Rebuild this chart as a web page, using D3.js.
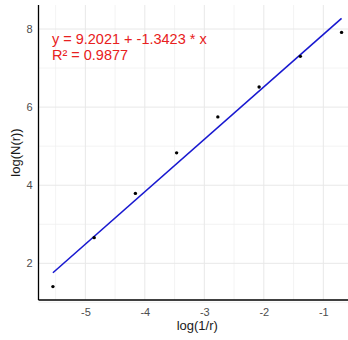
<!DOCTYPE html>
<html>
<head>
<meta charset="utf-8">
<script src="https://cdn.jsdelivr.net/npm/d3@7"></script>
<style>
  body { margin: 0; background: #fff; }
  svg { display: block; font-family: "Liberation Sans", Arial, sans-serif; }
</style>
</head>
<body>
<div id="chart"></div>
<script>
// data
var logInvR = [-5.545, -4.852, -4.159, -3.466, -2.773, -2.079, -1.386, -0.693];
var logN = [1.404, 2.657, 3.79, 4.829, 5.75, 6.517, 7.30, 7.913];
var xTicks = [-5, -4, -3, -2, -1];
var yTicks = [2, 4, 6, 8];
// fit was done on log(r) = -log(1/r)
var fitIntercept = 9.2021;
var fitSlope = -1.3423;
var fitR2 = 0.9877;

var svgWidth = 348;
var svgHeight = 340;
var margin = { top: 5, right: -8, bottom: 40, left: 38.5 };
var width = svgWidth - margin.left - margin.right;
var height = svgHeight - margin.top - margin.bottom;

var svg = d3.select("#chart")
  .append("svg")
  .attr("width", svgWidth)
  .attr("height", svgHeight);

var chart = svg.append("g")
  .attr("transform", "translate(" + margin.left + "," + margin.top + ")");

function fit(x) {
  return fitIntercept + fitSlope * (-x);
}

var xExt = d3.extent(logInvR);
var lineY = [fit(xExt[0]), fit(xExt[1])];
var yExt = d3.extent(logN.concat(lineY));

// ggplot style 5% expansion
function expand(ext) {
  var pad = (ext[1] - ext[0]) * 0.05;
  return [ext[0] - pad, ext[1] + pad];
}

var x = d3.scaleLinear().domain(expand(xExt)).range([0, width]);
var y = d3.scaleLinear().domain(expand(yExt)).range([height, 0]);

// minor grid halfway between majors
var xMinor = xTicks.map(function(t) { return t - 0.5; }).concat([xTicks[xTicks.length - 1] + 0.5]);
var yMinor = yTicks.map(function(t) { return t + 1; }).concat([yTicks[0] - 1]);

chart.selectAll(".minor-x").data(xMinor).enter().append("line")
  .attr("x1", function(d) { return x(d); }).attr("x2", function(d) { return x(d); })
  .attr("y1", 0).attr("y2", height)
  .attr("stroke", "#f0f0f0").attr("stroke-width", 0.8);
chart.selectAll(".minor-y").data(yMinor).enter().append("line")
  .attr("y1", function(d) { return y(d); }).attr("y2", function(d) { return y(d); })
  .attr("x1", 0).attr("x2", width)
  .attr("stroke", "#f0f0f0").attr("stroke-width", 0.8);

chart.selectAll(".major-x").data(xTicks).enter().append("line")
  .attr("x1", function(d) { return x(d); }).attr("x2", function(d) { return x(d); })
  .attr("y1", 0).attr("y2", height)
  .attr("stroke", "#e8e8e8").attr("stroke-width", 1);
chart.selectAll(".major-y").data(yTicks).enter().append("line")
  .attr("y1", function(d) { return y(d); }).attr("y2", function(d) { return y(d); })
  .attr("x1", 0).attr("x2", width)
  .attr("stroke", "#e8e8e8").attr("stroke-width", 1);

// axes, no tick marks, plain hyphen for minus
var fmt = function(d) { return String(d); };
var bottomAxis = d3.axisBottom(x).tickValues(xTicks).tickFormat(fmt).tickSize(0).tickPadding(8);
var leftAxis = d3.axisLeft(y).tickValues(yTicks).tickFormat(fmt).tickSize(0).tickPadding(6);

var gx = chart.append("g")
  .attr("transform", "translate(0," + height + ")")
  .call(bottomAxis);
var gy = chart.append("g").call(leftAxis);

[gx, gy].forEach(function(g) {
  g.select(".domain").remove();
  g.selectAll("text")
    .attr("fill", "#4d4d4d")
    .style("font-size", "11px")
    .style("font-family", "'Liberation Sans', Arial, sans-serif");
});

chart.append("line")
  .attr("x1", 0).attr("x2", 0).attr("y1", 0).attr("y2", height)
  .attr("stroke", "#000").attr("stroke-width", 1.3);
chart.append("line")
  .attr("x1", 0).attr("x2", width).attr("y1", height).attr("y2", height)
  .attr("stroke", "#000").attr("stroke-width", 1.3);

// fitted line
chart.append("line")
  .attr("x1", x(xExt[0])).attr("y1", y(lineY[0]))
  .attr("x2", x(xExt[1])).attr("y2", y(lineY[1]))
  .attr("stroke", "#1818d0")
  .attr("stroke-width", 1.6);

// points
chart.selectAll("circle")
  .data(logInvR)
  .enter()
  .append("circle")
  .attr("cx", function(d) { return x(d); })
  .attr("cy", function(d, i) { return y(logN[i]); })
  .attr("r", 1.7)
  .attr("fill", "#000");

// equation text
var eqX = x(-5.545) - 1;
chart.append("text")
  .attr("x", eqX).attr("y", y(8) + 15)
  .attr("fill", "#e82020")
  .style("font-size", "14.5px")
  .text("y = " + fitIntercept.toFixed(4) + " + " + fitSlope.toFixed(4) + " * x");
chart.append("text")
  .attr("x", eqX).attr("y", y(8) + 31)
  .attr("fill", "#e82020")
  .style("font-size", "14.5px")
  .text("R\u00b2 = " + fitR2.toFixed(4));

// axis titles
chart.append("text")
  .attr("x", width / 2)
  .attr("y", height + 30)
  .attr("text-anchor", "middle")
  .attr("fill", "#1a1a1a")
  .style("font-size", "13px")
  .text("log(1/r)");

chart.append("text")
  .attr("transform", "rotate(-90)")
  .attr("x", -height / 2)
  .attr("y", -margin.left + 20)
  .attr("text-anchor", "middle")
  .attr("fill", "#1a1a1a")
  .style("font-size", "13px")
  .text("log(N(r))");
</script>
</body>
</html>
